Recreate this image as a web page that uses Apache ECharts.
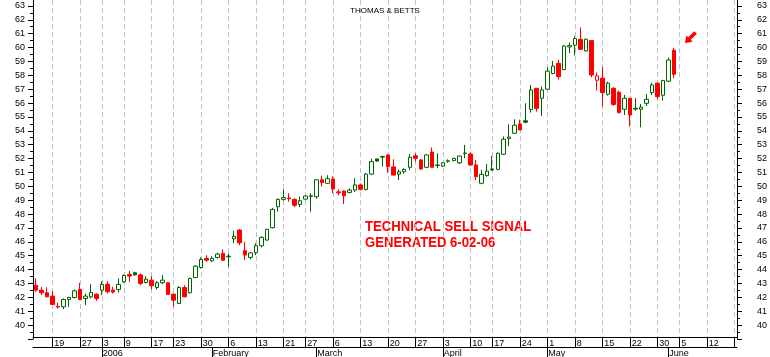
<!DOCTYPE html>
<html><head><meta charset="utf-8">
<script src="https://cdn.jsdelivr.net/npm/echarts@6/dist/echarts.min.js"></script>
<style>html,body{margin:0;padding:0;background:#fff}#c{width:770px;height:357px}</style>
</head><body><div id="c"></div>
<script>
// Trading days shown on the axis (Dec 14 2005 .. Jun 19 2006)
const decDays = [14,15,16,19,20,21,22,23,27,28,29,30];
const janDays = [3,4,5,6,9,10,11,12,13,17,18,19,20,23,24,25,26,27,30,31];
const febDays = [1,2,3,6,7,8,9,10,13,14,15,16,17,21,22,23,24,27,28];
const marDays = [1,2,3,6,7,8,9,10,13,14,15,16,17,20,21,22,23,24,27,28,29,30,31];
const aprDays = [3,4,5,6,7,10,11,12,13,17,18,19,20,21,24,25,26,27,28];
const mayDays = [1,2,3,4,5,8,9,10,11,12,15,16,17,18,19,22,23,24,25,26,30,31];
const junDays = [1,2,5,6,7,8,9,12,13,14,15,16,19];

const monthLabels = {'2006-01':'2006','2006-02':'February','2006-03':'March','2006-04':'April','2006-05':'May','2006-06':'June'};

const opens = [
42.88,42.52,42.33,42.09,41.35,41.32,41.85,41.99,42.57,41.92,42.04,42.23,
42.52,42.95,42.52,42.57,43.12,43.65,43.77,43.62,43.07,43.24,42.71,43.05,43.05,42.23,41.56,42.71,42.33,43.43,44.15,44.80,
44.63,44.88,45.17,44.97,46.22,46.85,45.36,44.88,45.21,45.72,46.13,47.02,48.53,49.06,49.16,49.06,48.70,49.08,49.26,
49.25,50.47,50.22,50.53,49.60,49.66,49.56,49.73,50.10,49.78,50.88,51.97,52.10,52.26,51.40,50.88,51.05,51.37,52.20,51.90,51.37,52.47,51.50,
51.46,51.80,51.85,51.70,52.36,52.33,51.54,50.22,50.77,51.25,51.22,52.31,53.45,53.82,54.49,54.72,55.54,57.06,56.34,
57.00,58.13,58.86,58.40,60.04,60.17,60.59,59.76,60.50,57.64,57.79,56.63,57.06,56.78,55.55,56.34,55.62,55.55,55.98,56.75,57.43,56.56,
57.58,59.80];
const closes = [
42.52,42.33,42.04,41.49,41.30,41.85,41.99,42.47,41.85,42.09,42.35,41.92,
42.93,42.40,42.38,42.93,43.58,43.53,43.62,43.00,43.31,42.83,43.05,43.24,42.21,41.80,42.71,42.04,43.36,44.25,44.73,44.68,
44.80,45.12,44.68,44.92,46.40,45.93,45.05,45.20,45.72,46.32,46.90,48.34,49.06,49.20,49.10,48.63,48.96,49.30,49.32,
50.47,50.27,50.55,49.80,49.53,49.32,49.73,50.10,49.78,50.88,51.78,51.82,52.15,51.41,50.81,51.05,51.22,52.09,52.02,51.25,52.26,51.37,51.54,
51.70,51.84,52.01,52.18,52.40,51.54,50.69,50.86,51.10,51.18,52.38,53.39,53.55,54.40,54.06,54.62,56.94,55.62,56.94,
58.30,58.66,57.90,60.11,60.14,60.65,59.87,60.60,58.02,57.96,56.75,57.43,55.90,55.31,56.34,55.14,55.57,55.70,56.27,57.30,56.46,57.62,
59.10,58.07];
const lows = [
42.40,42.16,41.99,41.44,41.20,41.15,41.32,41.92,41.80,41.44,41.92,41.75,
42.16,42.28,42.28,42.35,43.05,43.12,43.55,42.88,43.00,42.57,42.57,42.95,42.19,41.32,41.54,41.99,42.28,43.41,44.08,44.56,
44.56,44.80,44.63,44.20,45.90,45.76,44.69,44.74,45.05,45.60,46.08,46.97,48.17,48.96,48.90,48.50,48.49,49.04,48.17,
49.10,49.98,50.17,49.50,49.35,48.72,49.50,49.60,49.70,49.70,50.81,51.75,51.42,50.98,50.80,50.45,50.90,51.17,51.78,51.20,51.30,51.35,51.30,
51.40,51.70,51.80,51.60,52.02,51.45,50.45,50.15,50.70,51.12,51.15,52.25,52.90,53.77,54.06,54.54,55.31,55.38,55.07,
56.94,58.07,57.70,58.38,59.59,59.43,59.82,59.70,57.86,56.90,55.74,56.53,55.79,55.25,55.14,54.30,55.45,54.25,55.79,56.58,56.30,56.17,
57.50,57.79];
const highs = [
43.36,42.76,42.71,42.45,41.63,41.92,42.04,42.57,43.05,42.28,42.95,42.28,
43.17,43.17,42.76,43.36,43.65,43.91,43.84,43.72,43.53,43.53,43.17,43.60,43.07,42.28,42.81,42.88,43.43,44.32,44.88,45.04,
44.97,45.21,45.45,45.16,46.80,46.92,46.00,45.25,45.90,46.40,46.94,48.45,49.13,49.78,49.50,49.13,49.25,49.35,49.50,
50.50,50.77,50.80,50.70,49.78,49.70,49.85,50.58,50.20,50.95,52.00,52.00,52.20,52.30,51.95,51.22,51.30,52.33,52.38,51.95,52.30,52.80,52.38,
51.75,51.95,52.05,52.22,52.98,52.45,51.90,51.20,51.60,52.18,52.45,53.60,54.47,54.83,54.80,55.98,57.30,57.06,57.18,
58.57,59.03,59.10,60.18,60.35,60.80,61.45,60.65,60.50,58.20,58.60,57.54,57.13,56.90,56.58,56.34,56.34,55.93,56.65,57.47,57.50,57.67,
59.27,59.97];

const signalDate = '2006-06-07';
const signalLevel = 60.7;

const pad = n => (n < 10 ? '0' : '') + n;
const categories = [].concat(
  decDays.map(d => '2005-12-' + pad(d)),
  janDays.map(d => '2006-01-' + pad(d)),
  febDays.map(d => '2006-02-' + pad(d)),
  marDays.map(d => '2006-03-' + pad(d)),
  aprDays.map(d => '2006-04-' + pad(d)),
  mayDays.map(d => '2006-05-' + pad(d)),
  junDays.map(d => '2006-06-' + pad(d))
);
const weekStart = categories.map((d, i) => i > 0 && (Date.parse(d) - Date.parse(categories[i - 1])) / 864e5 > 2);
const monthStart = categories.map((d, i) => i > 0 && d.slice(0, 7) !== categories[i - 1].slice(0, 7));
const lastIdx = categories.length - 1;

const GREEN = '#006400', RED = '#ff0000';
const candleData = opens.map((o, i) => {
  const c = closes[i];
  const prev = i > 0 ? closes[i - 1] : o;
  const col = c > prev ? GREEN : RED;
  const fill = c >= o ? '#ffffff' : col;
  return { value: [o, c, lows[i], highs[i]],
    itemStyle: { color: fill, color0: fill, borderColor: col, borderColor0: col, borderColorDoji: col } };
});

const FONT = '"Liberation Sans", Arial, sans-serif';
const yBase = {
  type: 'value', min: 39, max: 64, interval: 1,
  splitLine: { show: false },
  axisLine: { show: true, lineStyle: { color: '#000', width: 1 } },
  axisTick: { show: true, length: 5, lineStyle: { color: '#000' } },
  minorTick: { show: true, splitNumber: 2, length: 3, lineStyle: { color: '#000' } },
  minorSplitLine: { show: false }
};

const chart = echarts.init(document.getElementById('c'), null, { renderer: 'canvas' });
chart.setOption({
  animation: false,
  backgroundColor: '#fff',
  title: { text: 'THOMAS & BETTS', left: 'center', top: 2,
    textStyle: { fontSize: 8, fontWeight: 'normal', color: '#000', fontFamily: FONT } },
  grid: { left: 33, right: 33, top: -8, bottom: 18, containLabel: false, outerBoundsMode: 'none' },
  xAxis: [
    { type: 'category', data: categories, boundaryGap: true, position: 'bottom', offset: -2,
      axisLine: { onZero: false, lineStyle: { color: '#000', width: 1 } },
      axisTick: { show: true, alignWithLabel: true, interval: i => weekStart[i], length: 10, lineStyle: { color: '#000' } },
      axisLabel: { interval: i => weekStart[i] && i < lastIdx, formatter: v => String(+v.slice(8)),
        align: 'left', margin: 2, padding: [0, 0, 0, 2], fontSize: 9, color: '#000', fontFamily: FONT },
      splitLine: { show: true, alignWithLabel: true, interval: i => weekStart[i],
        lineStyle: { color: '#c0c0c0', width: 1, type: [5, 3] } } },
    { type: 'category', data: categories, boundaryGap: true, position: 'bottom', offset: 8,
      axisLine: { onZero: false, lineStyle: { color: '#000', width: 1 } },
      axisTick: { show: true, alignWithLabel: true, interval: i => monthStart[i], length: 10, lineStyle: { color: '#000' } },
      axisLabel: { interval: i => monthStart[i], formatter: v => monthLabels[v.slice(0, 7)] || '',
        align: 'left', margin: 2, padding: [0, 0, 0, 1], fontSize: 9, color: '#000', fontFamily: FONT },
      splitLine: { show: false } }
  ],
  yAxis: [
    Object.assign({}, yBase, { position: 'left',
      axisLabel: { margin: 8, fontSize: 9, color: '#000', fontFamily: FONT, formatter: v => (v > 39 && v < 64) ? String(v) : '' } }),
    Object.assign({}, yBase, { position: 'right',
      axisLabel: { margin: 20, fontSize: 9, color: '#000', fontFamily: FONT, formatter: v => (v > 39 && v < 64) ? String(v) : '' } })
  ],
  series: [{
    type: 'candlestick', xAxisIndex: 0, yAxisIndex: 0,
    data: candleData, barWidth: 4,
    itemStyle: { borderWidth: 1 },
    markPoint: {
      silent: true,
      label: { show: false },
      data: [{ coord: [signalDate, signalLevel],
        symbol: 'path://M5 0 L10 6 L7 6 L7 14 L3 14 L3 6 L0 6 Z',
        symbolSize: [9, 15], symbolRotate: 135,
        itemStyle: { color: RED } }]
    }
  }],
  graphic: [
    { type: 'text', x: 365, y: 219, scaleX: 0.875,
      style: { text: 'TECHNICAL SELL SIGNAL', fill: RED, font: 'bold 15px ' + FONT, verticalAlign: 'top' } },
    { type: 'text', x: 365, y: 235, scaleX: 0.875,
      style: { text: 'GENERATED 6-02-06', fill: RED, font: 'bold 15px ' + FONT, verticalAlign: 'top' } }
  ]
});
</script></body></html>
